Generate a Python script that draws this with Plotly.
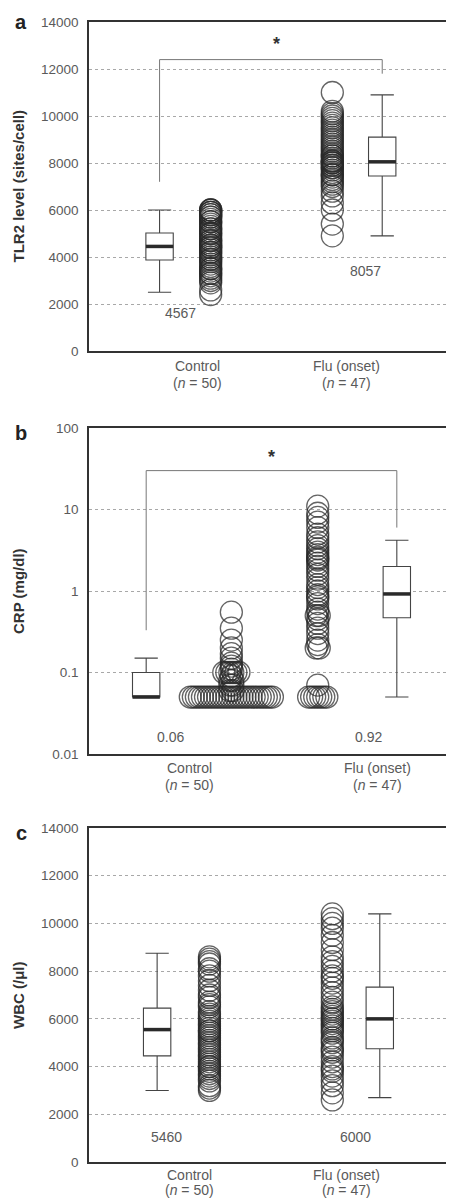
import math
import plotly.graph_objects as go
from collections import Counter

W, H = 454, 1199
OFF = 8  # page body margin offset

categories = ["Control", "Flu (onset)"]
n_labels = ["(<i>n</i> = 50)", "(<i>n</i> = 47)"]

tlr2_control = [2400, 2600, 2900, 3000, 3100, 3200, 3300, 3300, 3400, 3500,
                3500, 3600, 3700, 3800, 3900, 3900, 4000, 4100, 4200, 4200,
                4300, 4400, 4400, 4500, 4500, 4600, 4700, 4700, 4800, 4900,
                5000, 5000, 5100, 5200, 5200, 5300, 5400, 5500, 5500, 5600,
                5700, 5700, 5800, 5800, 5900, 5900, 6000, 6000, 6000, 5900]
tlr2_flu = [4900, 5400, 6000, 6300, 6600, 6800, 7000, 7100, 7200, 7300,
            7400, 7500, 7500, 7600, 7700, 7800, 7800, 7900, 7900, 8000,
            8000, 8100, 8100, 8200, 8300, 8300, 8400, 8500, 8600, 8700,
            8800, 8900, 9000, 9100, 9200, 9300, 9400, 9500, 9600, 9700,
            9800, 9900, 10000, 10100, 10200, 11000, 8050]

crp_control = [0.05] * 28 + [0.06, 0.06, 0.07, 0.07, 0.08, 0.08, 0.09,
                             0.1, 0.1, 0.1, 0.1, 0.1, 0.1, 0.11, 0.12, 0.13,
                             0.15, 0.17, 0.2, 0.25, 0.35, 0.55]
crp_flu = [0.05] * 7 + [0.07, 0.2, 0.2, 0.22, 0.25, 0.3, 0.35, 0.4, 0.45, 0.5,
                        0.5, 0.55, 0.6, 0.7, 0.8, 0.85, 0.9, 1.0, 1.1, 1.2, 1.4,
                        1.6, 1.8, 2.0, 2.2, 2.4, 2.5, 2.6, 2.8, 3.0, 3.3, 3.6,
                        4.0, 4.5, 5.0, 6.0, 7.0, 8.0, 9.0, 11.0]

wbc_control = [3000, 3100, 3200, 3400, 3500, 3600, 3700, 3800, 3900, 4000,
               4000, 4100, 4200, 4300, 4400, 4500, 4600, 4700, 4800, 4900,
               5000, 5100, 5200, 5300, 5400, 5500, 5500, 5600, 5700, 5800,
               5900, 6000, 6100, 6200, 6300, 6500, 6600, 6700, 6900, 7000,
               7200, 7400, 7600, 7800, 8000, 8100, 8300, 8400, 8500, 8600]
wbc_flu = [2600, 2900, 3200, 3400, 3600, 3800, 3900, 4000, 4200, 4400,
           4600, 4700, 4800, 5000, 5100, 5200, 5400, 5500, 5600, 5700,
           5800, 5900, 6000, 6000, 6100, 6200, 6400, 6500, 6700, 6900,
           7100, 7300, 7500, 7700, 7800, 8000, 8200, 8400, 8600, 8900,
           9200, 9500, 9800, 10000, 10200, 10400, 6300]

# box stats: lowerfence, q1, median, q3, upperfence
tlr2_box_control = [2500, 3870, 4450, 5020, 6000]
tlr2_box_flu = [4900, 7450, 8050, 9100, 10900]
crp_box_control = [0.05, 0.05, 0.05, 0.1, 0.15]
crp_box_flu = [0.05, 0.47, 0.92, 2.0, 4.2]
wbc_box_control = [3000, 4450, 5550, 6450, 8750]
wbc_box_flu = [2700, 4750, 6000, 7330, 10400]

tlr2_value_labels = ["4567", "8057"]
crp_value_labels = ["0.06", "0.92"]
wbc_value_labels = ["5460", "6000"]

tlr2_ticks = [0, 2000, 4000, 6000, 8000, 10000, 12000, 14000]
crp_ticks = [0.01, 0.1, 1, 10, 100]
crp_ticktext = ["0.01", "0.1", "1", "10", "100"]
wbc_ticks = [0, 2000, 4000, 6000, 8000, 10000, 12000, 14000]

# ---- layout constants (screen pixels) ----
X0 = 89
PXU = (454 - X0) / 3.0
XMAX = (W + OFF - X0) / PXU


def fx(p):
    return (p - OFF) / W


def fy(p):
    return 1 - (p - OFF) / H


panels = [
    dict(letter="a", top=22, bot=351, title="TLR2 level (sites/cell)",
         ctrl=tlr2_control, flu=tlr2_flu, bc=tlr2_box_control, bf=tlr2_box_flu,
         vals=tlr2_value_labels, ticks=tlr2_ticks, ticktext=None, log=False,
         yr=[0, 14000], box_c=0.58, pts_c=1.0, pts_f=2.0, box_f=2.41,
         lab_c=0.89, lab_f=2.12, lab_y=(366, 383),
         val_pos=[(0.75, 1600), (2.27, 3400)], spread=False,
         bracket=(7200, 12400, 11800), star=(1.54, 13050), letter_y=22),
    dict(letter="b", top=428, bot=754, title="CRP (mg/dl)",
         ctrl=crp_control, flu=crp_flu, bc=crp_box_control, bf=crp_box_flu,
         vals=crp_value_labels, ticks=crp_ticks, ticktext=crp_ticktext, log=True,
         yr=[-2, 2], box_c=0.47, pts_c=1.17, pts_f=1.88, box_f=2.53,
         lab_c=0.83, lab_f=2.37, lab_y=(768, 785),
         val_pos=[(0.67, 0.016), (2.30, 0.016)], spread=True,
         bracket=(0.33, 30, 6), star=(1.50, 44), letter_y=433),
    dict(letter="c", top=828, bot=1162, title="WBC (/μl)",
         ctrl=wbc_control, flu=wbc_flu, bc=wbc_box_control, bf=wbc_box_flu,
         vals=wbc_value_labels, ticks=wbc_ticks, ticktext=None, log=False,
         yr=[0, 14000], box_c=0.56, pts_c=0.99, pts_f=2.0, box_f=2.39,
         lab_c=0.83, lab_f=2.12, lab_y=(1175, 1190),
         val_pos=[(0.64, 1050), (2.19, 1050)], spread=False,
         bracket=None, star=None, letter_y=833),
]

FONT = "Liberation Sans, Arial, sans-serif"
GRAY = "#5a5a5a"
DARK = "#333333"
BOXW = 0.225
STEP = 0.025

fig = go.Figure()
annotations = []
layout = {}


def spread_x(values, center, do_spread):
    if not do_spread:
        return [center] * len(values)
    counts = Counter(values)
    seen = Counter()
    xs = []
    for v in values:
        k = counts[v]
        i = seen[v]
        seen[v] += 1
        xs.append(center + (i - (k - 1) / 2) * STEP)
    return xs


for idx, p in enumerate(panels):
    n = "" if idx == 0 else str(idx + 1)
    xa, ya = "x" + n, "y" + n
    dom_y = [fy(p["bot"]), fy(p["top"])]
    layout["xaxis" + n] = dict(
        domain=[fx(X0), 1], range=[0, XMAX], showline=True, linecolor=DARK,
        linewidth=1.5, mirror=True, showticklabels=False, showgrid=False,
        zeroline=False, ticks="", anchor=ya, fixedrange=True, automargin=False)
    ticktext = p["ticktext"] or [str(t) for t in p["ticks"]]
    yax = dict(
        domain=dom_y, range=p["yr"], showline=True, linecolor=DARK, linewidth=1.5,
        tickvals=p["ticks"], ticktext=ticktext, showgrid=True,
        gridcolor="#a8a8a8", griddash="dot", gridwidth=1.2, zeroline=False,
        ticks="", anchor=xa, automargin=False,
        tickfont=dict(family=FONT, size=13.5, color=GRAY), ticklabelstandoff=6,
        fixedrange=True)
    if p["log"]:
        yax["type"] = "log"
    layout["yaxis" + n] = yax

    # points
    for vals, c in ((p["ctrl"], p["pts_c"]), (p["flu"], p["pts_f"])):
        fig.add_trace(go.Scatter(
            x=spread_x(vals, c, p["spread"]), y=vals, mode="markers",
            xaxis=xa, yaxis=ya, showlegend=False, hoverinfo="y",
            marker=dict(symbol="circle-open", size=22,
                        color="rgba(40,40,40,0.72)", line=dict(width=1.3))))
    # boxes
    for st, c in ((p["bc"], p["box_c"]), (p["bf"], p["box_f"])):
        fig.add_trace(go.Box(
            x=[c], lowerfence=[st[0]], q1=[st[1]], median=[st[2]], q3=[st[3]],
            upperfence=[st[4]], width=BOXW, whiskerwidth=0.85,
            fillcolor="white", line=dict(color="#444444", width=1.1),
            xaxis=xa, yaxis=ya, showlegend=False, boxpoints=False))
        fig.add_trace(go.Scatter(
            x=[c - BOXW / 2, c + BOXW / 2], y=[st[2], st[2]], mode="lines",
            line=dict(color="#2a2a2a", width=3.5), xaxis=xa, yaxis=ya,
            showlegend=False, hoverinfo="skip"))
    # bracket
    if p["bracket"]:
        yl, yt, yr_ = p["bracket"]
        fig.add_trace(go.Scatter(
            x=[p["box_c"], p["box_c"], p["box_f"], p["box_f"]],
            y=[yl, yt, yt, yr_], mode="lines",
            line=dict(color="#777777", width=1), xaxis=xa, yaxis=ya,
            showlegend=False, hoverinfo="skip"))
        sy = math.log10(p["star"][1]) if p["log"] else p["star"][1]
        annotations.append(dict(
            x=p["star"][0], y=sy, xref=xa, yref=ya, text="<b>*</b>",
            showarrow=False, xanchor="center", yanchor="middle",
            font=dict(family=FONT, size=18, color=DARK)))
    # value labels
    for txt, (vx, vy) in zip(p["vals"], p["val_pos"]):
        annotations.append(dict(
            x=vx, y=(math.log10(vy) if p["log"] else vy), xref=xa, yref=ya,
            text=txt, showarrow=False, xanchor="center", yanchor="middle",
            font=dict(family=FONT, size=14, color=GRAY)))
    # category labels
    for cat, nl, lx in zip(categories, n_labels, (p["lab_c"], p["lab_f"])):
        annotations.append(dict(
            x=lx, y=fy(p["lab_y"][0]), xref=xa, yref="paper", text=cat,
            showarrow=False, xanchor="center", yanchor="middle",
            font=dict(family=FONT, size=14, color=GRAY)))
        annotations.append(dict(
            x=lx, y=fy(p["lab_y"][1]), xref=xa, yref="paper", text=nl,
            showarrow=False, xanchor="center", yanchor="middle",
            font=dict(family=FONT, size=14, color=GRAY)))
    # y title
    annotations.append(dict(
        x=fx(18), y=(dom_y[0] + dom_y[1]) / 2, xref="paper", yref="paper",
        text="<b>" + p["title"] + "</b>", textangle=-90, showarrow=False,
        xanchor="center", yanchor="middle",
        font=dict(family=FONT, size=15, color=DARK)))
    # panel letter
    annotations.append(dict(
        x=fx(21), y=fy(p["letter_y"]), xref="paper", yref="paper",
        text="<b>" + p["letter"] + "</b>", showarrow=False,
        xanchor="center", yanchor="middle",
        font=dict(family=FONT, size=20, color="#222222")))

fig.update_layout(
    width=W, height=H, margin=dict(l=0, r=0, t=0, b=0, autoexpand=False),
    paper_bgcolor="white", plot_bgcolor="white", showlegend=False,
    annotations=annotations, **layout)

fig.write_html("out.html")
